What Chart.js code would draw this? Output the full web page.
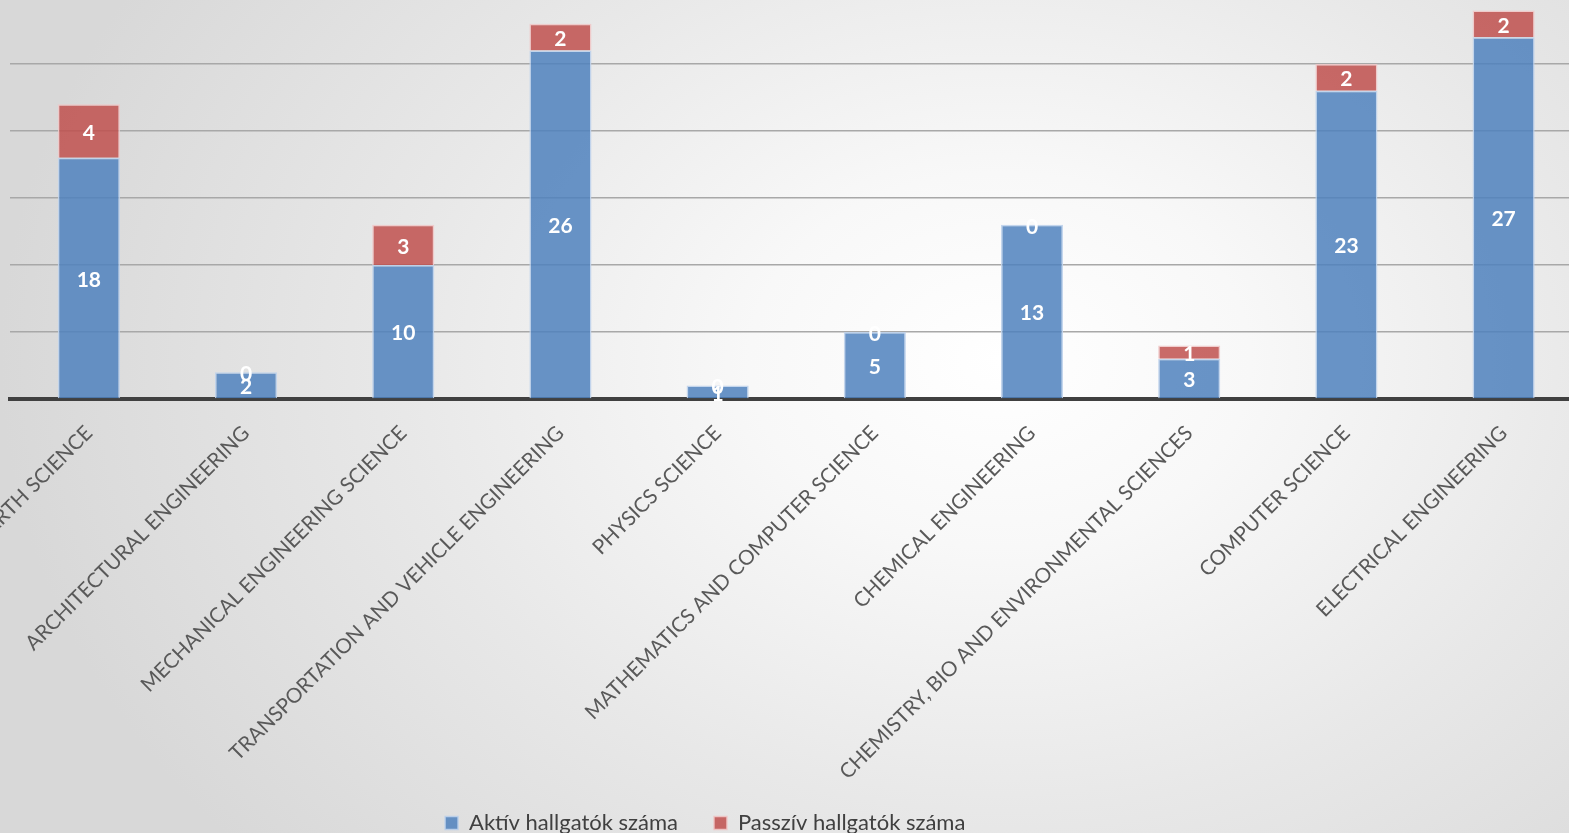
<!DOCTYPE html>
<html>
<head>
<meta charset="utf-8">
<script src="https://cdn.jsdelivr.net/npm/chart.js@4.4.0/dist/chart.umd.min.js"></script>
<style>
    html, body { margin: 0; padding: 0; width: 1569px; height: 833px; overflow: hidden; }
    body {
        background: radial-gradient(ellipse 1000px 750px at 1000px 360px,
            #ffffff 0%, #f8f8f8 25%, #e8e8e8 60%, #d8d8d8 100%);
    }
    #wrap { position: absolute; left: -150px; top: -30px; width: 1900px; height: 900px; }
</style>
</head>
<body>
<div id="wrap"><canvas id="chart"></canvas></div>
<script>
const categories = [
    'EARTH SCIENCE',
    'ARCHITECTURAL ENGINEERING',
    'MECHANICAL ENGINEERING SCIENCE',
    'TRANSPORTATION AND VEHICLE ENGINEERING',
    'PHYSICS SCIENCE',
    'MATHEMATICS AND COMPUTER SCIENCE',
    'CHEMICAL ENGINEERING',
    'CHEMISTRY, BIO AND ENVIRONMENTAL SCIENCES',
    'COMPUTER SCIENCE',
    'ELECTRICAL ENGINEERING',
];
const activeStudents = [18, 2, 10, 26, 1, 5, 13, 3, 23, 27];
const passiveStudents = [4, 0, 3, 2, 0, 0, 0, 1, 2, 2];
const seriesNames = ['Aktív hallgatók száma', 'Passzív hallgatók száma'];
const yMax = 30;
const yStep = 5;

// target placement on the page (the reference picture is a crop of a wider chart)
const target = { left: 10, right: 1582, top: -3, bottom: 399, legendY: 810, legendX: 705 };

const wrap = document.getElementById('wrap');
let L = -150, T = -30, W = 1900, H = 900;

// NOTE white value labels in the middle of each segment
const barLabels = {
    id: 'barLabels',
    afterDatasetsDraw(chart) {
        const ctx = chart.ctx;
        ctx.save();
        ctx.font = 'bold 21px Lato';
        ctx.fillStyle = '#ffffff';
        ctx.textAlign = 'center';
        ctx.textBaseline = 'middle';
        chart.data.datasets.forEach((ds, i) => {
            chart.getDatasetMeta(i).data.forEach((bar, j) => {
                ctx.fillText(ds.data[j], bar.x, (bar.y + bar.base) / 2 + 2);
            });
        });
        ctx.restore();
    },
};

// legend sits where the original (uncropped) chart had it
const legendShift = {
    id: 'legendShift',
    afterLayout(chart) {
        const lg = chart.legend;
        const dx = (target.legendX - L) - (lg.left + lg.right) / 2;
        const dy = (target.legendY - T) - (lg.top + lg.bottom) / 2;
        lg.left += dx;
        lg.right += dx;
        lg.top += dy;
        lg.bottom += dy;
    },
};

const chart = new Chart(document.getElementById('chart'), {
    type: 'bar',
    data: {
        labels: categories,
        datasets: [
            {
                label: seriesNames[0],
                data: activeStudents,
                backgroundColor: 'rgba(79, 129, 189, 0.85)',
                borderColor: 'rgba(190, 210, 235, 0.9)',
                borderWidth: 1.5,
                categoryPercentage: 0.8,
                barPercentage: 0.494,
            },
            {
                label: seriesNames[1],
                data: passiveStudents,
                backgroundColor: 'rgba(192, 80, 77, 0.85)',
                borderColor: 'rgba(240, 200, 200, 0.9)',
                borderWidth: 1.5,
                categoryPercentage: 0.8,
                barPercentage: 0.494,
            },
        ],
    },
    options: {
        responsive: true,
        maintainAspectRatio: false,
        animation: false,
        layout: { padding: 0 },
        scales: {
            x: {
                stacked: true,
                grid: { display: false },
                border: { display: true, color: '#404040', width: 4 },
                ticks: {
                    color: '#595959',
                    font: { family: 'Lato', size: 20.6 },
                    minRotation: 45,
                    maxRotation: 45,
                    autoSkip: false,
                    padding: 14,
                },
                afterFit(scale) { scale.height = 400; },
            },
            y: {
                stacked: true,
                min: 0,
                max: yMax,
                ticks: { display: false, stepSize: yStep },
                grid: { color: '#a8a8a8', lineWidth: 1.5, drawTicks: false },
                border: { display: false },
            },
        },
        plugins: {
            tooltip: { enabled: false },
            legend: {
                position: 'bottom',
                labels: {
                    color: '#404040',
                    font: { family: 'Lato', size: 22 },
                    boxWidth: 13,
                    boxHeight: 13,
                    padding: 36,
                },
            },
        },
    },
    plugins: [barLabels, legendShift],
});

function applyBox() {
    wrap.style.left = L + 'px';
    wrap.style.top = T + 'px';
    wrap.style.width = W + 'px';
    wrap.style.height = H + 'px';
    chart.resize();
    chart.update();
}

function fitToTarget() {
    for (let k = 0; k < 3; k++) {
        const a = chart.chartArea;
        W += (target.right - target.left) - (a.right - a.left);
        H += (target.bottom - target.top) - (a.bottom - a.top);
        L = target.left - a.left;
        T = target.top - a.top;
        applyBox();
    }
}

applyBox();
fitToTarget();
</script>
</body>
</html>
